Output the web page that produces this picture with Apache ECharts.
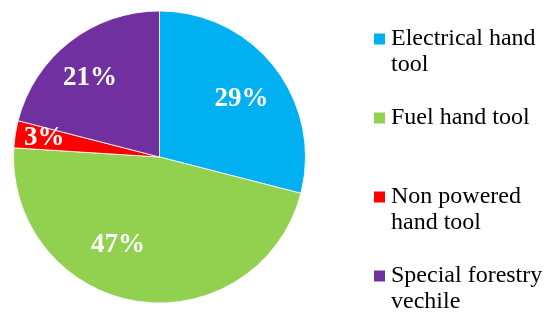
<!DOCTYPE html>
<html lang="en">
  <head>
    <meta charset="UTF-8" />
    <title>Hand tool share</title>
    <script src="https://cdn.jsdelivr.net/npm/echarts@6/dist/echarts.min.js"></script>
    <style>
      html, body { margin: 0; padding: 0; background: #fff; }
      #chart { width: 545px; height: 312px; }
    </style>
  </head>
  <body>
    <div id="chart"></div>
    <script>
      // data
      const categories = ['Electrical hand tool', 'Fuel hand tool', 'Non powered hand tool', 'Special forestry vechile']
      const shares = [29, 47, 3, 21]
      // how the legend wraps each name
      const legendLines = [
        ['Electrical hand', 'tool'],
        ['Fuel hand tool'],
        ['Non powered', 'hand tool'],
        ['Special forestry', 'vechile']
      ]
      const colors = ['#00B0F0', '#92D050', '#FF0000', '#7030A0']

      // pie geometry and where each % label sits (angle in deg, fraction of radius)
      const cx = 159.5, cy = 157, R = 146
      const labelSpots = [[35.4, 0.69], [-115.3, 0.665], [170.5, 0.8], [131.4, 0.72]]

      const serif = 'Liberation Serif'

      const chart = echarts.init(document.getElementById('chart'))
      chart.setOption({
        animation: false,
        backgroundColor: '#fff',
        color: colors,
        legend: {
          orient: 'vertical',
          left: 372,
          top: 0,
          height: 340, // taller than the canvas so the list never wraps into a 2nd column
          padding: 0,
          itemWidth: 13,
          itemHeight: 13,
          itemGap: 1,
          icon: 'rect',
          selectedMode: false,
          data: categories,
          // blank first line keeps the marker beside the first text line
          formatter: name => {
            const lines = legendLines[categories.indexOf(name)]
            return [' ', lines[0], lines[1] || ' '].join('\n')
          },
          textStyle: {
            fontFamily: serif,
            fontSize: 24,
            lineHeight: 26,
            color: '#000'
          }
        },
        series: [
          {
            type: 'pie',
            center: [cx, cy],
            radius: R,
            startAngle: 90,
            clockwise: true,
            silent: true,
            itemStyle: { borderColor: '#fff', borderWidth: 0.8 },
            label: {
              show: true,
              position: 'inside',
              formatter: '{c}%',
              color: '#fff',
              fontFamily: serif,
              fontWeight: 'bold',
              fontSize: 27
            },
            labelLine: { show: false },
            labelLayout: params => {
              const [deg, f] = labelSpots[params.dataIndex]
              const a = deg * Math.PI / 180
              const tx = cx + Math.cos(a) * R * f
              const ty = cy - Math.sin(a) * R * f
              const r = params.labelRect
              return { dx: tx - (r.x + r.width / 2), dy: ty - (r.y + r.height / 2) }
            },
            data: categories.map((name, i) => ({ name, value: shares[i] }))
          }
        ]
      })
    </script>
  </body>
</html>
